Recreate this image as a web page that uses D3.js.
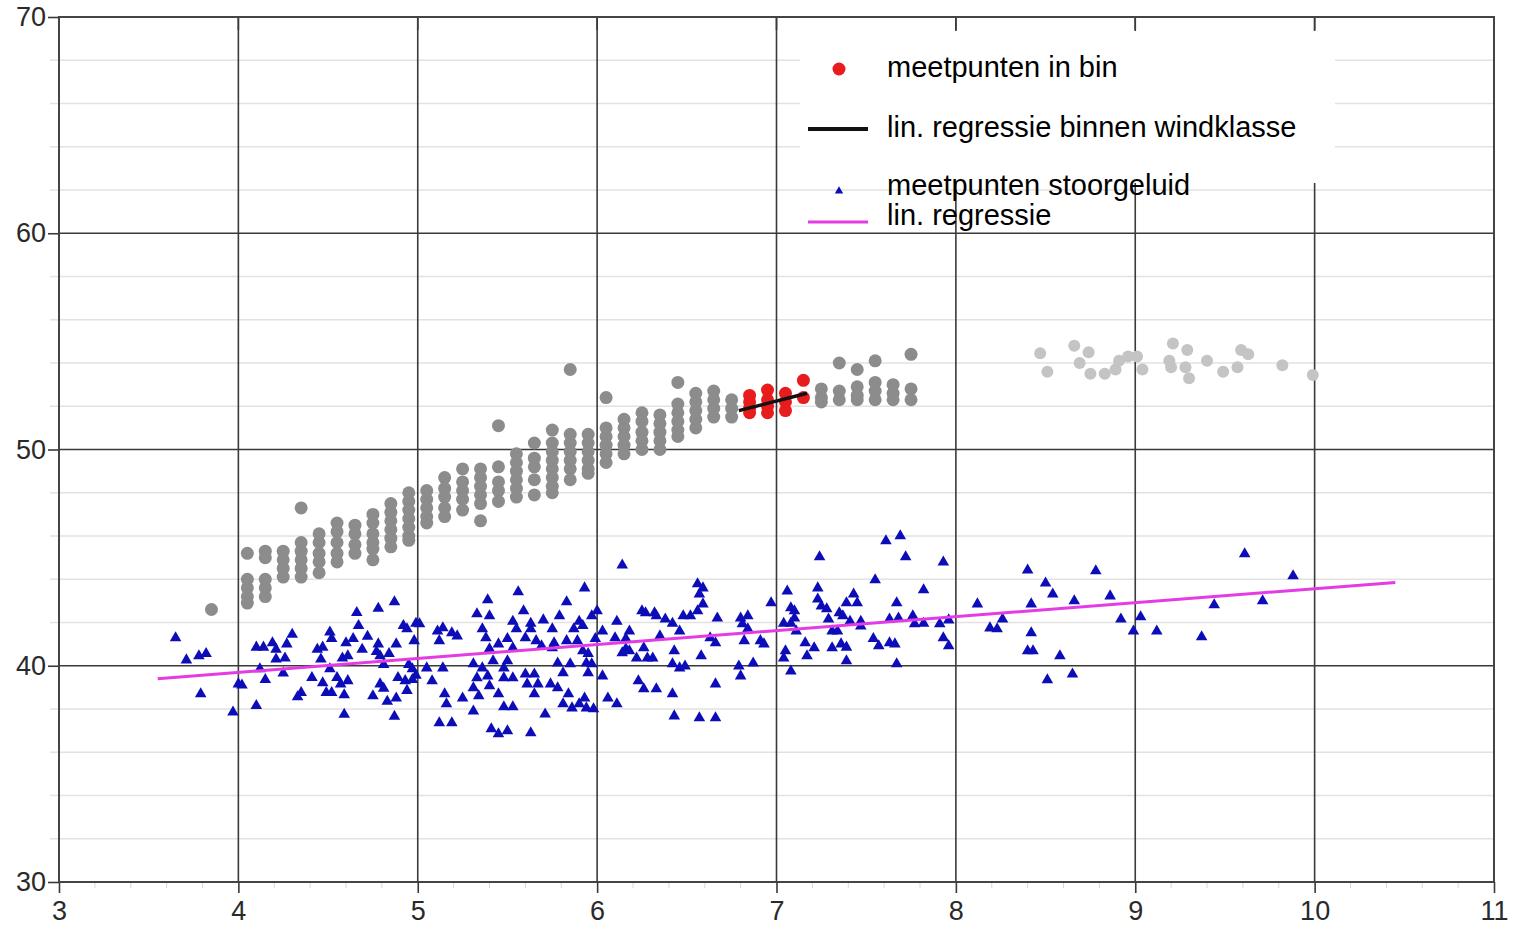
<!DOCTYPE html>
<html><head><meta charset="utf-8">
<script src="https://cdn.jsdelivr.net/npm/d3@7"></script>
<style>body{margin:0;background:#fff}svg{display:block}text{font-family:"Liberation Sans",Arial,sans-serif}</style>
</head><body><svg id="c" width="1523" height="926"></svg>
<script>
// ---------- data ----------
const xTicks = [3, 4, 5, 6, 7, 8, 9, 10, 11];
const yTicks = [30, 40, 50, 60, 70];
const yMinorTicks = [32, 34, 36, 38, 42, 44, 46, 48, 52, 54, 56, 58, 62, 64, 66, 68];
const legendLabels = ["meetpunten in bin", "lin. regressie binnen windklasse", "meetpunten stoorgeluid", "lin. regressie"];

// grey measurement points (all wind classes), grouped per 0.1 m/s column
const greyColX = [3.85, 4.05, 4.15, 4.25, 4.35, 4.45, 4.55, 4.65, 4.75, 4.85, 4.95, 5.05, 5.15, 5.25, 5.35, 5.45, 5.55, 5.65, 5.75, 5.85, 5.95, 6.05, 6.15, 6.25, 6.35, 6.45, 6.55, 6.65, 6.75, 7.25, 7.35, 7.45, 7.55, 7.65, 7.75];
const greyColY = [
  [42.6],
  [45.2, 44.0, 43.6, 43.2, 42.9],
  [45.3, 45.0, 44.0, 43.6, 43.2],
  [45.3, 44.9, 44.5, 44.1],
  [47.3, 45.7, 45.3, 44.9, 44.5, 44.1],
  [46.1, 45.7, 45.2, 44.8, 44.3],
  [46.6, 46.2, 45.7, 45.2, 44.8],
  [46.5, 46.1, 45.6, 45.2],
  [47.0, 46.6, 46.1, 45.7, 45.4, 44.9],
  [47.5, 47.1, 46.7, 46.3, 45.9, 45.5],
  [48.0, 47.6, 47.2, 46.8, 46.4, 46.0, 45.8],
  [48.1, 47.7, 47.3, 46.9, 46.6],
  [48.7, 48.2, 47.8, 47.3, 46.9],
  [49.1, 48.5, 48.1, 47.7, 47.2],
  [49.1, 48.7, 48.3, 47.9, 47.5, 46.7],
  [51.1, 49.2, 48.5, 48.1, 47.6],
  [49.8, 49.4, 49.0, 48.6, 48.2, 47.8],
  [50.3, 49.6, 49.2, 48.6, 47.9],
  [50.9, 50.3, 49.9, 49.5, 49.1, 48.7, 48.3, 48.0],
  [53.7, 50.7, 50.3, 49.9, 49.5, 49.1, 48.6],
  [50.7, 50.3, 49.9, 49.5, 49.1, 48.9],
  [52.4, 51.0, 50.6, 50.2, 49.8, 49.4],
  [51.4, 51.0, 50.6, 50.2, 49.8],
  [51.7, 51.3, 50.8, 50.4, 50.0],
  [51.6, 51.2, 50.8, 50.4, 50.0],
  [53.1, 52.1, 51.7, 51.3, 50.9, 50.6],
  [52.6, 52.2, 51.8, 51.4, 51.0],
  [52.7, 52.3, 51.9, 51.5],
  [52.3, 51.9, 51.5],
  [52.8, 52.4, 52.2],
  [54.0, 52.7, 52.3],
  [53.7, 52.9, 52.5, 52.3],
  [54.1, 53.1, 52.7, 52.3],
  [53.0, 52.6, 52.3],
  [54.4, 52.8, 52.3]
];

// faded grey points at high wind speeds
const fadedX = [8.47, 8.51, 8.66, 8.69, 8.74, 8.75, 8.83, 8.89, 8.91, 8.96, 9.01, 9.04, 9.21, 9.19, 9.20, 9.29, 9.28, 9.30, 9.40, 9.49, 9.57, 9.59, 9.63, 9.82, 9.99];
const fadedY = [54.45, 53.6, 54.8, 54.0, 54.5, 53.5, 53.5, 53.7, 54.1, 54.3, 54.3, 53.7, 54.9, 54.1, 53.8, 54.6, 53.8, 53.3, 54.1, 53.6, 53.8, 54.6, 54.4, 53.9, 53.45];

// red points in the bin
const binColX = [6.85, 6.95, 7.05, 7.15];
const binColY = [[52.5, 52.2, 51.9, 51.7], [52.75, 52.3, 52.0, 51.7], [52.6, 52.2, 51.8], [53.2, 52.4]];

// regression within wind class (black)
const binRegX = [6.79, 7.17];
const binRegY = [51.8, 52.6];

// background noise points (blue triangles)
const noiseX = [3.65, 3.71, 3.78, 3.82, 3.79, 3.97, 4.0, 4.02, 4.10, 4.10, 4.14, 4.12, 4.15, 4.19, 4.21, 4.21, 4.26, 4.27, 4.30, 4.25, 4.33, 4.35, 4.41, 4.44, 4.47, 4.46, 4.51, 4.52, 4.49, 4.52, 4.51, 4.47, 4.55, 4.57, 4.59, 4.59, 4.61, 4.58, 4.61, 4.60, 4.64, 4.66, 4.67, 4.69, 4.72, 4.75, 4.77, 4.78, 4.78, 4.79, 4.79, 4.81, 4.83, 4.81, 4.84, 4.87, 4.87, 4.89, 4.88, 4.88, 4.92, 4.93, 4.94, 4.94, 4.95, 4.98, 4.99, 5.01, 4.97, 4.99, 4.97, 5.05, 5.08, 5.11, 5.14, 5.12, 5.14, 5.15, 5.16, 5.12, 5.19, 5.19, 5.22, 5.25,
  5.39, 5.56, 5.93, 6.14, 5.83, 5.59, 5.33, 5.40, 5.53, 5.63, 5.70, 5.79, 5.90, 5.97, 6.00, 5.36, 5.55, 5.63, 5.75, 5.87, 5.92, 5.38, 5.50, 5.60, 5.66, 5.76, 5.83, 5.89, 5.99, 5.40, 5.45, 5.53, 5.69, 5.75, 5.92, 5.95, 5.31, 5.36, 5.42, 5.50, 5.48, 5.78, 5.85, 5.94, 5.97, 5.33, 5.39, 5.48, 5.53, 5.60, 5.65, 5.81, 5.95, 6.03, 5.31, 5.40, 5.61, 5.67, 5.74, 5.78, 5.34, 5.45, 5.65, 5.84, 5.93, 5.48, 5.53, 5.71, 5.81, 5.86, 5.90, 5.94, 5.98, 5.31, 5.41, 5.45, 5.50, 5.63,
  6.06, 6.11, 6.03, 6.10, 6.11, 6.18, 6.16, 6.16, 6.25, 6.27, 6.32, 6.33, 6.38, 6.42, 6.48, 6.52, 6.56, 6.59, 6.57, 6.56, 6.59, 6.14, 6.18, 6.22, 6.26, 6.28, 6.31, 6.35, 6.43, 6.46, 6.42, 6.46, 6.49, 6.58, 6.63, 6.66, 6.67, 6.66, 6.23, 6.26, 6.33, 6.42, 6.43, 6.57, 6.66, 6.80, 6.84, 6.81, 6.84, 6.82, 6.91, 6.93, 6.79, 6.87, 6.80, 6.97, 7.06, 7.08, 7.10, 7.04, 7.08, 7.05, 7.04, 7.08,
  7.24, 7.61, 7.69, 7.72, 7.93, 7.55, 7.82, 7.23, 7.43, 7.23, 7.25, 7.28, 7.39, 7.45, 7.67, 7.10, 7.29, 7.35, 7.37, 7.41, 7.47, 7.63, 7.68, 7.76, 7.77, 7.82, 7.91, 7.96, 7.11, 7.31, 7.34, 7.47, 7.16, 7.21, 7.31, 7.36, 7.39, 7.54, 7.57, 7.63, 7.66, 7.93, 7.96, 7.17, 7.39, 7.67, 8.12, 8.19, 8.23, 8.26, 8.40, 8.50, 8.54, 8.42, 8.66, 8.78, 8.86, 8.42, 8.40, 8.43, 8.58, 8.51, 8.65, 8.92,
  9.03, 8.99, 9.12, 9.37, 9.44, 9.61, 9.71, 9.88];
const noiseY = [41.33, 40.31, 40.5, 40.6, 38.74, 37.9, 39.2, 39.15, 38.2, 40.9, 40.9, 39.9, 39.4, 41.1, 40.8, 40.35, 40.4, 41.05, 41.5, 39.7, 38.6, 38.8, 39.5, 40.8, 40.9, 40.35, 41.6, 41.3, 38.8, 38.8, 39.9, 39.25, 39.5, 39.2, 38.7, 37.8, 39.35, 40.4, 40.5, 41.1, 41.3, 42.5, 41.9, 40.8, 41.4, 38.65, 40.7, 41.05, 42.7, 40.5, 39.2, 39.0, 38.4, 40.1, 40.6, 43.0, 37.7, 39.5, 41.05, 38.55, 41.9, 39.35, 41.75, 38.9, 40.1, 41.2, 42.0, 41.98, 39.9, 39.6, 39.4, 39.94, 39.34, 41.65, 41.8, 41.2, 39.94, 38.74, 38.28, 37.4, 37.4, 41.56, 41.42, 38.55,
  43.09, 43.46, 43.64, 44.7, 43.0, 42.58, 42.44, 42.35, 42.1, 42.0, 42.16, 42.35, 42.1, 42.35, 42.58, 41.75, 41.75, 41.75, 41.75, 41.75, 41.9, 41.33, 41.3, 41.33, 41.2, 41.1, 41.2, 41.2, 41.3, 40.82, 41.05, 40.87, 40.96, 40.87, 40.73, 40.6, 40.13, 39.94, 40.27, 40.27, 39.94, 40.17, 40.13, 40.17, 40.13, 39.48, 39.57, 39.48, 39.48, 39.66, 39.66, 39.71, 39.71, 39.57, 39.02, 39.11, 39.2, 39.2, 39.2, 39.02, 38.65, 38.74, 38.74, 38.74, 38.55, 38.14, 38.14, 37.81, 38.28, 38.09, 38.28, 38.09, 38.05, 37.95, 37.12, 36.89, 37.03, 36.94,
  38.55, 38.28, 41.65, 41.33, 42.1, 41.65, 41.3, 40.82, 42.58, 42.49, 42.49, 42.35, 42.2, 42.0, 42.35, 42.35, 42.58, 42.9, 43.36, 43.83, 43.64, 40.64, 40.73, 40.4, 40.87, 40.4, 40.4, 41.42, 40.73, 41.65, 40.13, 39.94, 40.03, 40.5, 41.33, 41.1, 42.25, 39.2, 39.34, 38.97, 38.97, 38.74, 37.72, 37.63, 37.63, 42.25, 42.35, 41.98, 41.75, 41.2, 41.2, 41.05, 40.03, 40.17, 39.57, 42.95, 43.5, 42.72, 42.58, 42.0, 42.0, 40.73, 40.4, 39.8,
  45.08, 45.82, 46.05, 45.08, 44.84, 44.01, 43.55, 43.64, 43.36, 43.13, 42.8, 42.67, 42.95, 42.95, 42.95, 42.25, 42.2, 42.49, 42.35, 42.1, 42.1, 42.2, 42.25, 42.35, 41.98, 42.0, 41.98, 42.16, 41.65, 41.65, 41.65, 41.88, 41.1, 40.87, 40.87, 41.05, 40.9, 41.3, 40.96, 41.1, 41.05, 41.33, 40.96, 40.5, 40.27, 40.13, 42.9, 41.79, 41.75, 42.2, 44.47, 43.87, 43.36, 42.9, 43.04, 44.43, 43.27, 41.56, 40.73, 40.73, 40.5, 39.39, 39.66, 42.2,
  42.3, 41.65, 41.65, 41.38, 42.86, 45.22, 43.04, 44.2];

// overall linear regression of background noise (magenta)
const regX = [3.55, 10.45];
const regY = [39.4, 43.85];

// ---------- layout ----------
const svg = d3.select("#c");
const x = d3.scaleLinear().domain([3, 11]).range([59, 1494]);
const y = d3.scaleLinear().domain([30, 70]).range([882, 17]);
const pTop = y(70), pBot = y(30), pLeft = x(3), pRight = x(11);

svg.append("rect").attr("width", 1523).attr("height", 926).attr("fill", "#fff");

// minor horizontal grid
svg.append("g").selectAll("line").data(yMinorTicks).join("line")
  .attr("x1", pLeft - 9).attr("x2", pRight).attr("y1", d => y(d)).attr("y2", d => y(d))
  .attr("stroke", "#e2e2e2").attr("stroke-width", 1.5);

// minor x ticks along bottom
const xMinor = d3.range(3, 11.001, 0.2).filter(v => Math.abs(v - Math.round(v)) > 0.01);
svg.append("g").selectAll("line").data(xMinor).join("line")
  .attr("x1", d => x(d)).attr("x2", d => x(d)).attr("y1", pBot).attr("y2", pBot + 6)
  .attr("stroke", "#d8d8d8").attr("stroke-width", 1);

// major grid
svg.append("g").selectAll("line").data(xTicks.slice(1, -1)).join("line")
  .attr("x1", d => x(d)).attr("x2", d => x(d)).attr("y1", pTop).attr("y2", pBot)
  .attr("stroke", "#3a3a3a").attr("stroke-width", 1.6);
svg.append("g").selectAll("line").data(yTicks.slice(1, -1)).join("line")
  .attr("x1", pLeft).attr("x2", pRight).attr("y1", d => y(d)).attr("y2", d => y(d))
  .attr("stroke", "#3a3a3a").attr("stroke-width", 1.6);

// legend background box hiding grid
svg.append("rect").attr("x", 800).attr("y", 31).attr("width", 535).attr("height", 152).attr("fill", "#fff");

// top ticks
svg.append("g").selectAll("line").data(xTicks.slice(1, -1)).join("line")
  .attr("x1", d => x(d)).attr("x2", d => x(d)).attr("y1", pTop).attr("y2", pTop + 13)
  .attr("stroke", "#3a3a3a").attr("stroke-width", 1.6);

// frame
svg.append("rect").attr("x", pLeft).attr("y", pTop).attr("width", pRight - pLeft).attr("height", pBot - pTop)
  .attr("fill", "none").attr("stroke", "#444").attr("stroke-width", 2);

// axes
const ax = svg.append("g").attr("transform", `translate(0,${pBot})`)
  .call(d3.axisBottom(x).tickValues(xTicks).tickSize(11).tickPadding(8).tickFormat(d3.format("d")));
const ay = svg.append("g").attr("transform", `translate(${pLeft},0)`)
  .call(d3.axisLeft(y).tickValues(yTicks).tickSize(11).tickPadding(2).tickFormat(d3.format("d")));
[ax, ay].forEach(g => {
  g.select(".domain").remove();
  g.selectAll(".tick line").attr("stroke", "#3a3a3a").attr("stroke-width", 1.6);
  g.selectAll(".tick text").attr("fill", "#2a2a2a").style("font-size", "27px")
    .style("font-family", '"Liberation Sans", Arial, sans-serif');
});

// grey points
const greyPts = greyColX.flatMap((cx, i) => greyColY[i].map(v => [cx, v]));
svg.append("g").selectAll("circle").data(greyPts).join("circle")
  .attr("cx", d => x(d[0])).attr("cy", d => y(d[1])).attr("r", 6.5).attr("fill", "#8c8c8c");

const fadedPts = fadedX.map((v, i) => [v, fadedY[i]]);
svg.append("g").selectAll("circle").data(fadedPts).join("circle")
  .attr("cx", d => x(d[0])).attr("cy", d => y(d[1])).attr("r", 6).attr("fill", "#c4c4c4");

// red bin points
const binPts = binColX.flatMap((cx, i) => binColY[i].map(v => [cx, v]));
svg.append("g").selectAll("circle").data(binPts).join("circle")
  .attr("cx", d => x(d[0])).attr("cy", d => y(d[1])).attr("r", 6.5).attr("fill", "#e81c1c");

// black bin regression
const line = d3.line().x(d => x(d[0])).y(d => y(d[1]));
svg.append("path").datum(binRegX.map((v, i) => [v, binRegY[i]])).attr("d", line)
  .attr("stroke", "#111").attr("stroke-width", 3.5).attr("fill", "none");

// blue triangles
const noisePts = noiseX.map((v, i) => [v, noiseY[i]]);
const tri = d3.symbol().type(d3.symbolTriangle).size(58);
svg.append("g").selectAll("path").data(noisePts).join("path")
  .attr("d", tri).attr("transform", d => `translate(${x(d[0])},${y(d[1]) + 1})`).attr("fill", "#0c0cb8");

// magenta regression
svg.append("path").datum(regX.map((v, i) => [v, regY[i]])).attr("d", line)
  .attr("stroke", "#e43ce4").attr("stroke-width", 3).attr("fill", "none");

// legend
const lg = svg.append("g");
lg.append("circle").attr("cx", 839).attr("cy", 69).attr("r", 6.5).attr("fill", "#e81c1c");
lg.append("line").attr("x1", 808).attr("x2", 868).attr("y1", 129).attr("y2", 129).attr("stroke", "#111").attr("stroke-width", 4);
lg.append("path").attr("d", d3.symbol().type(d3.symbolTriangle).size(30)).attr("transform", "translate(839,191)").attr("fill", "#0c0cb8");
lg.append("line").attr("x1", 808).attr("x2", 868).attr("y1", 222).attr("y2", 222).attr("stroke", "#e43ce4").attr("stroke-width", 3);
const baselines = [77, 137, 195, 225];
lg.selectAll("text").data(legendLabels).join("text")
  .attr("x", 887).attr("y", (d, i) => baselines[i]).text(d => d)
  .attr("fill", "#000").style("font-size", "29px");
</script></body></html>
